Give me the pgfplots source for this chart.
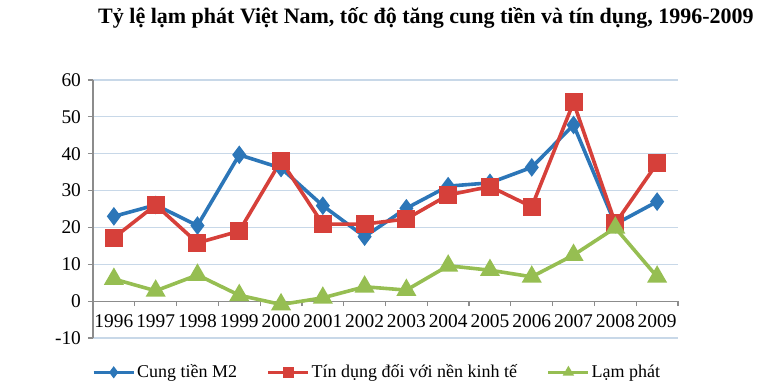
\documentclass[border=0pt]{standalone}
\usepackage{fontspec}
\setmainfont{Liberation Serif}
\usepackage{pgfplots}
\pgfplotsset{compat=1.18}
\definecolor{cblue}{RGB}{44,118,184}
\definecolor{cred}{RGB}{214,64,58}
\definecolor{cgreen}{RGB}{150,190,82}
\definecolor{cgrid}{RGB}{200,216,232}
\definecolor{caxis}{RGB}{140,140,140}
\begin{document}
\begin{tikzpicture}
\begin{axis}[
  scale only axis, width=292.5pt, height=129pt,
  xmin=-0.5, xmax=13.5, ymin=-10, ymax=60,
  axis x line=middle, axis y line=left,
  axis line style={-, draw=caxis, line width=0.6pt},
  xtick={-0.5,0.5,...,13.5}, xticklabels={},
  extra x ticks={0,1,...,13},
  extra x tick labels={1996,1997,1998,1999,2000,2001,2002,2003,2004,2005,2006,2007,2008,2009},
  extra x tick style={major tick length=0pt, grid=none, xticklabel style={yshift=-3pt}},
  ytick={-10,0,...,60},
  ymajorgrids=true,
  grid style={draw=cgrid, line width=0.6pt},
  tick style={draw=caxis, line width=0.6pt},
  major tick length=2.5pt,
  xtick align=outside, ytick align=outside,
  tick label style={font=\fontsize{9.7}{10}\selectfont},
  /pgf/number format/assume math mode=true,
  every axis plot/.append style={line width=1.8pt},
  legend style={at={(0.486,-0.133)}, anchor=center, draw=none, legend columns=3,
    font=\fontsize{9}{10}\selectfont,
    /tikz/every even column/.append style={column sep=14pt},
    /tikz/every odd column/.append style={column sep=0pt},
    nodes={inner xsep=1pt}},
  legend image code/.code={\draw[#1, line width=1.3pt, mark size=2pt, mark repeat=2, mark phase=2] plot coordinates {(0pt,0pt) (10pt,0pt) (20pt,0pt)};},
  clip=false,
]
\addplot[cblue, mark=diamond*, mark size=3.2pt, mark options={solid}] coordinates {
(0,23.0) (1,26.1) (2,20.5) (3,39.7) (4,36.1) (5,25.9) (6,17.5) (7,25.2) (8,31.2) (9,32.1) (10,36.3) (11,47.8) (12,20.9) (13,27.0)};
\addlegendentry{Cung tiền M2}
\addplot[cred, mark=square*, mark size=3.6pt, mark options={solid}] coordinates {
(0,17.2) (1,26.1) (2,15.8) (3,19.0) (4,38.1) (5,20.9) (6,20.9) (7,22.3) (8,28.8) (9,31.1) (10,25.6) (11,53.9) (12,21.1) (13,37.4)};
\addlegendentry{Tín dụng đối với nền kinh tế}
\addplot[cgreen, mark=triangle*, mark size=4pt, mark options={solid}] coordinates {
(0,6.0) (1,2.8) (2,7.1) (3,1.6) (4,-0.9) (5,0.9) (6,3.9) (7,3.0) (8,9.6) (9,8.4) (10,6.6) (11,12.5) (12,19.9) (13,6.6)};
\addlegendentry{Lạm phát}
\end{axis}
\node[font=\bfseries\fontsize{11}{12}\selectfont] at (166.5pt,160pt) {Tỷ lệ lạm phát Việt Nam, tốc độ tăng cung tiền và tín dụng, 1996-2009};
\path[use as bounding box] (-46.5pt,-26pt) rectangle (336pt,169pt);
\end{tikzpicture}
\end{document}
